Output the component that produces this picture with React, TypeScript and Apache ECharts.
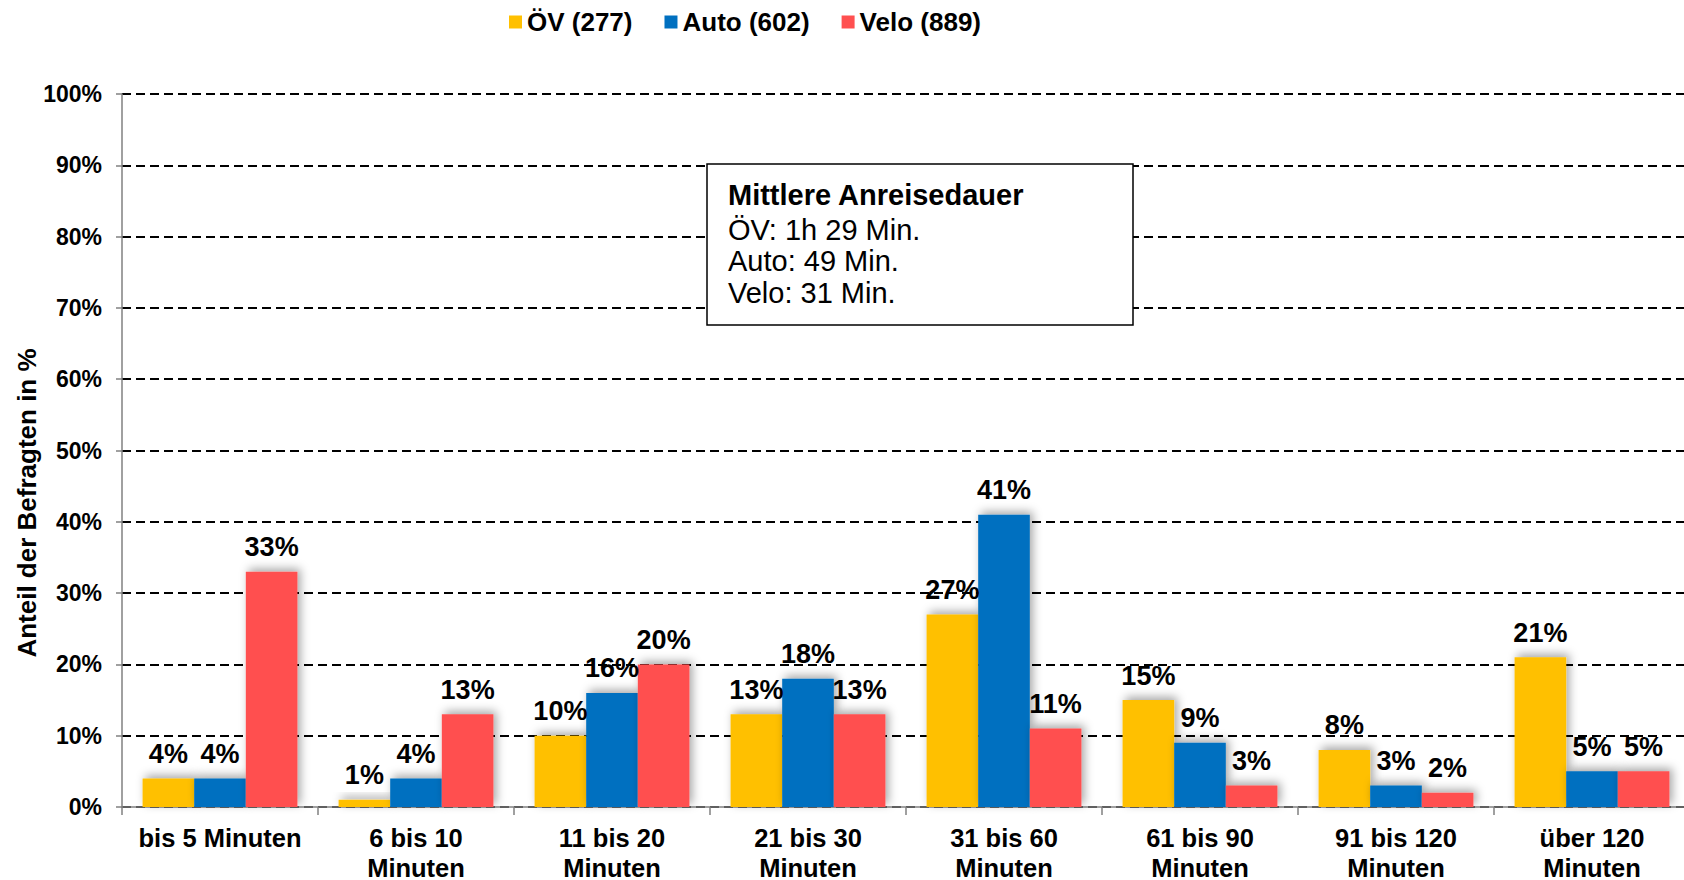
import React, { useEffect, useRef } from "react";
import * as echarts from "echarts";

const categories = [
  "bis 5 Minuten",
  "6 bis 10\nMinuten",
  "11 bis 20\nMinuten",
  "21 bis 30\nMinuten",
  "31 bis 60\nMinuten",
  "61 bis 90\nMinuten",
  "91 bis 120\nMinuten",
  "über 120\nMinuten",
];
const seriesNames = ["ÖV (277)", "Auto (602)", "Velo (889)"];
const oevValues = [4, 1, 10, 13, 27, 15, 8, 21];
const autoValues = [4, 4, 16, 18, 41, 9, 3, 5];
const veloValues = [33, 13, 20, 13, 11, 3, 2, 5];
const colors = ["#FFC000", "#0070C0", "#FF5050"];
const boxTitle = "Mittlere Anreisedauer";
const boxLines = ["ÖV: 1h 29 Min.", "Auto: 49 Min.", "Velo: 31 Min."];
const yAxisTitle = "Anteil der Befragten in %";

const FONT = "'Liberation Sans', Arial, sans-serif";

export default function App() {
  const ref = useRef<HTMLDivElement>(null);
  useEffect(() => {
    if (!ref.current) return;
    const chart = echarts.init(ref.current, null, { renderer: "svg" });
    const mkSeries = (name: string, data: number[], color: string) => ({
      name,
      type: "bar",
      data,
      barGap: "0%",
      barCategoryGap: "21%",
      itemStyle: {
        color,
        shadowBlur: 10,
        shadowColor: "rgba(0,0,0,0.35)",
        shadowOffsetX: 3,
        shadowOffsetY: -3,
      },
      label: {
        show: true,
        position: "top",
        distance: 11,
        formatter: "{c}%",
        fontFamily: FONT,
        fontSize: 27,
        fontWeight: "bold",
        color: "#000",
      },
    });
    chart.setOption({
      animation: false,
      backgroundColor: "#fff",
      textStyle: { fontFamily: FONT },
      legend: {
        data: seriesNames,
        left: 509,
        top: 9,
        padding: 0,
        itemWidth: 13,
        itemHeight: 13,
        itemGap: 32,
        icon: "rect",
        textStyle: { fontFamily: FONT, fontSize: 26, fontWeight: "bold", color: "#000" },
      },
      grid: {
        left: 122,
        top: 94,
        width: 1568,
        height: 713,
        outerBoundsMode: "none",
        containLabel: false,
      },
      xAxis: {
        type: "category",
        data: categories,
        axisLine: { lineStyle: { color: "#808080", width: 1.5 } },
        axisTick: { show: true, length: 8, lineStyle: { color: "#808080", width: 1.5 } },
        axisLabel: {
          margin: 16,
          fontFamily: FONT,
          fontSize: 25.5,
          fontWeight: "bold",
          color: "#000",
          lineHeight: 30,
          interval: 0,
        },
      },
      yAxis: {
        type: "value",
        min: 0,
        max: 100,
        interval: 10,
        axisLine: { show: true, lineStyle: { color: "#808080", width: 1.5 } },
        axisTick: { show: true, length: 6, lineStyle: { color: "#808080", width: 1.5 } },
        axisLabel: {
          margin: 20,
          formatter: "{value}%",
          fontFamily: FONT,
          fontSize: 23,
          fontWeight: "bold",
          color: "#000",
        },
        splitLine: { lineStyle: { color: "#000", width: 2, type: [9, 5] } },
      },
      graphic: [
        {
          type: "text",
          x: 27,
          y: 503,
          rotation: Math.PI / 2,
          z: 100,
          style: {
            text: yAxisTitle,
            font: `bold 26px ${FONT}`,
            fill: "#000",
            align: "center",
            verticalAlign: "middle",
          },
        },
        {
          type: "rect",
          x: 707,
          y: 164,
          z: 100,
          shape: { x: 0, y: 0, width: 426, height: 161 },
          style: { fill: "#fff", stroke: "#000", lineWidth: 1.5 },
        },
        {
          type: "text",
          x: 728,
          y: 195,
          z: 101,
          style: {
            text: boxTitle,
            font: `bold 29px ${FONT}`,
            fill: "#000",
            verticalAlign: "middle",
          },
        },
        ...boxLines.map((t, i) => ({
          type: "text",
          x: 728,
          y: 229.5 + i * 31.5,
          z: 101,
          style: {
            text: t,
            font: `29px ${FONT}`,
            fill: "#000",
            verticalAlign: "middle",
          },
        })),
      ],
      series: [
        mkSeries(seriesNames[0], oevValues, colors[0]),
        mkSeries(seriesNames[1], autoValues, colors[1]),
        mkSeries(seriesNames[2], veloValues, colors[2]),
      ],
    });
    return () => chart.dispose();
  }, []);
  return (
    <div
      ref={ref}
      style={{ position: "fixed", left: 0, top: 0, width: 1684, height: 880, overflow: "hidden" }}
    />
  );
}
